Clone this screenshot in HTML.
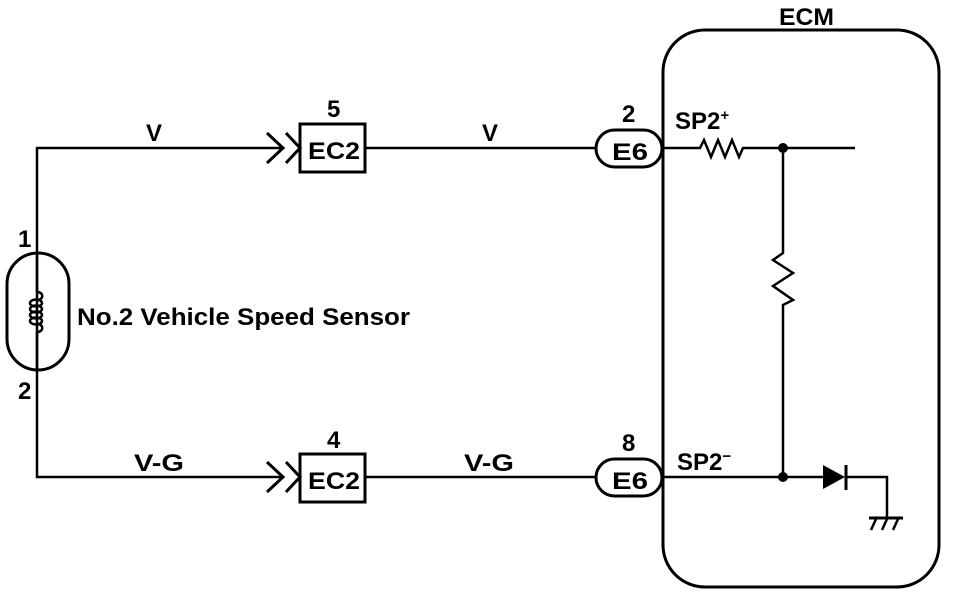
<!DOCTYPE html>
<html><head><style>
html,body{margin:0;padding:0;background:#fff;}
svg{display:block;}
text{font-family:"Liberation Sans",Arial,sans-serif;fill:#000;font-weight:bold;}
</style></head><body>
<svg width="960" height="596" viewBox="0 0 960 596" xmlns="http://www.w3.org/2000/svg">
<g fill="none" stroke="#000" stroke-width="2.5">
<polyline points="284,148 37,148 37,477 284,477"/>
<rect x="7" y="253" width="62" height="117" rx="31" ry="31" stroke-width="3"/>
<line x1="37" y1="253" x2="37" y2="292"/>
<line x1="37" y1="332" x2="37" y2="370"/>
<path d="M37,292 C44,292 44,300 37,300 M37,332 C44,332 44,324 37,324" />
<ellipse cx="36" cy="303" rx="6" ry="3.5"/>
<ellipse cx="36" cy="309" rx="6" ry="3.5"/>
<ellipse cx="36" cy="315" rx="6" ry="3.5"/>
<ellipse cx="36" cy="321" rx="6" ry="3.5"/>
<polyline points="267,133 283,148 267,163" stroke-width="3"/>
<polyline points="286,133 300,148 286,163" stroke-width="3"/>
<rect x="300" y="124" width="65" height="48" stroke-width="3"/>
<polyline points="267,462 283,477 267,492" stroke-width="3"/>
<polyline points="286,462 300,477 286,492" stroke-width="3"/>
<rect x="300" y="454" width="65" height="48" stroke-width="3"/>
<line x1="365" y1="148" x2="596" y2="148"/>
<line x1="365" y1="477" x2="596" y2="477"/>
<rect x="596" y="130" width="66" height="37" rx="18.5" stroke-width="3"/>
<rect x="596" y="459" width="66" height="37" rx="18.5" stroke-width="3"/>
<rect x="663" y="30" width="276" height="557" rx="42" stroke-width="3"/>
<polyline points="662,148 700,148 704,140 711,157 718,140 725,157 732,140 739,157 743,148 855,148"/>
<polyline points="783,148 783,253 773,260 793,273 773,286 793,300 783,305 783,477"/>
<polyline points="662,477 823,477"/>
<polyline points="846,477 887,477 887,518"/>
<line x1="869" y1="518" x2="903" y2="518" stroke-width="3"/>
<line x1="876" y1="519" x2="871" y2="530"/>
<line x1="887" y1="519" x2="882" y2="530"/>
<line x1="898" y1="519" x2="893" y2="530"/>
</g>
<polygon points="823,465 845,477 823,489" fill="#000"/>
<line x1="846" y1="465" x2="846" y2="490" stroke="#000" stroke-width="3"/>
<circle cx="783" cy="148" r="5" fill="#000"/>
<circle cx="783" cy="477" r="5" fill="#000"/>
<g font-size="24">
<text x="146" y="141">V</text>
<text x="482" y="141">V</text>
<text x="134" y="471" textLength="50" lengthAdjust="spacingAndGlyphs">V-G</text>
<text x="464" y="471" textLength="50" lengthAdjust="spacingAndGlyphs">V-G</text>
<text x="327" y="117">5</text>
<text x="327" y="448">4</text>
<text x="308" y="159" textLength="52" lengthAdjust="spacingAndGlyphs">EC2</text>
<text x="308" y="489" textLength="52" lengthAdjust="spacingAndGlyphs">EC2</text>
<text x="612" y="160" textLength="36" lengthAdjust="spacingAndGlyphs">E6</text>
<text x="612" y="489" textLength="36" lengthAdjust="spacingAndGlyphs">E6</text>
<text x="622" y="122">2</text>
<text x="622" y="451">8</text>
<text x="675" y="129">SP2<tspan font-size="15" dy="-9">+</tspan></text>
<text x="677" y="470">SP2<tspan font-size="15" dy="-9">−</tspan></text>
<text x="779" y="25" textLength="55" lengthAdjust="spacingAndGlyphs">ECM</text>
<text x="18" y="247">1</text>
<text x="18" y="399">2</text>
<text x="77" y="325" textLength="333" lengthAdjust="spacingAndGlyphs">No.2 Vehicle Speed Sensor</text>
</g>
</svg>
</body></html>
